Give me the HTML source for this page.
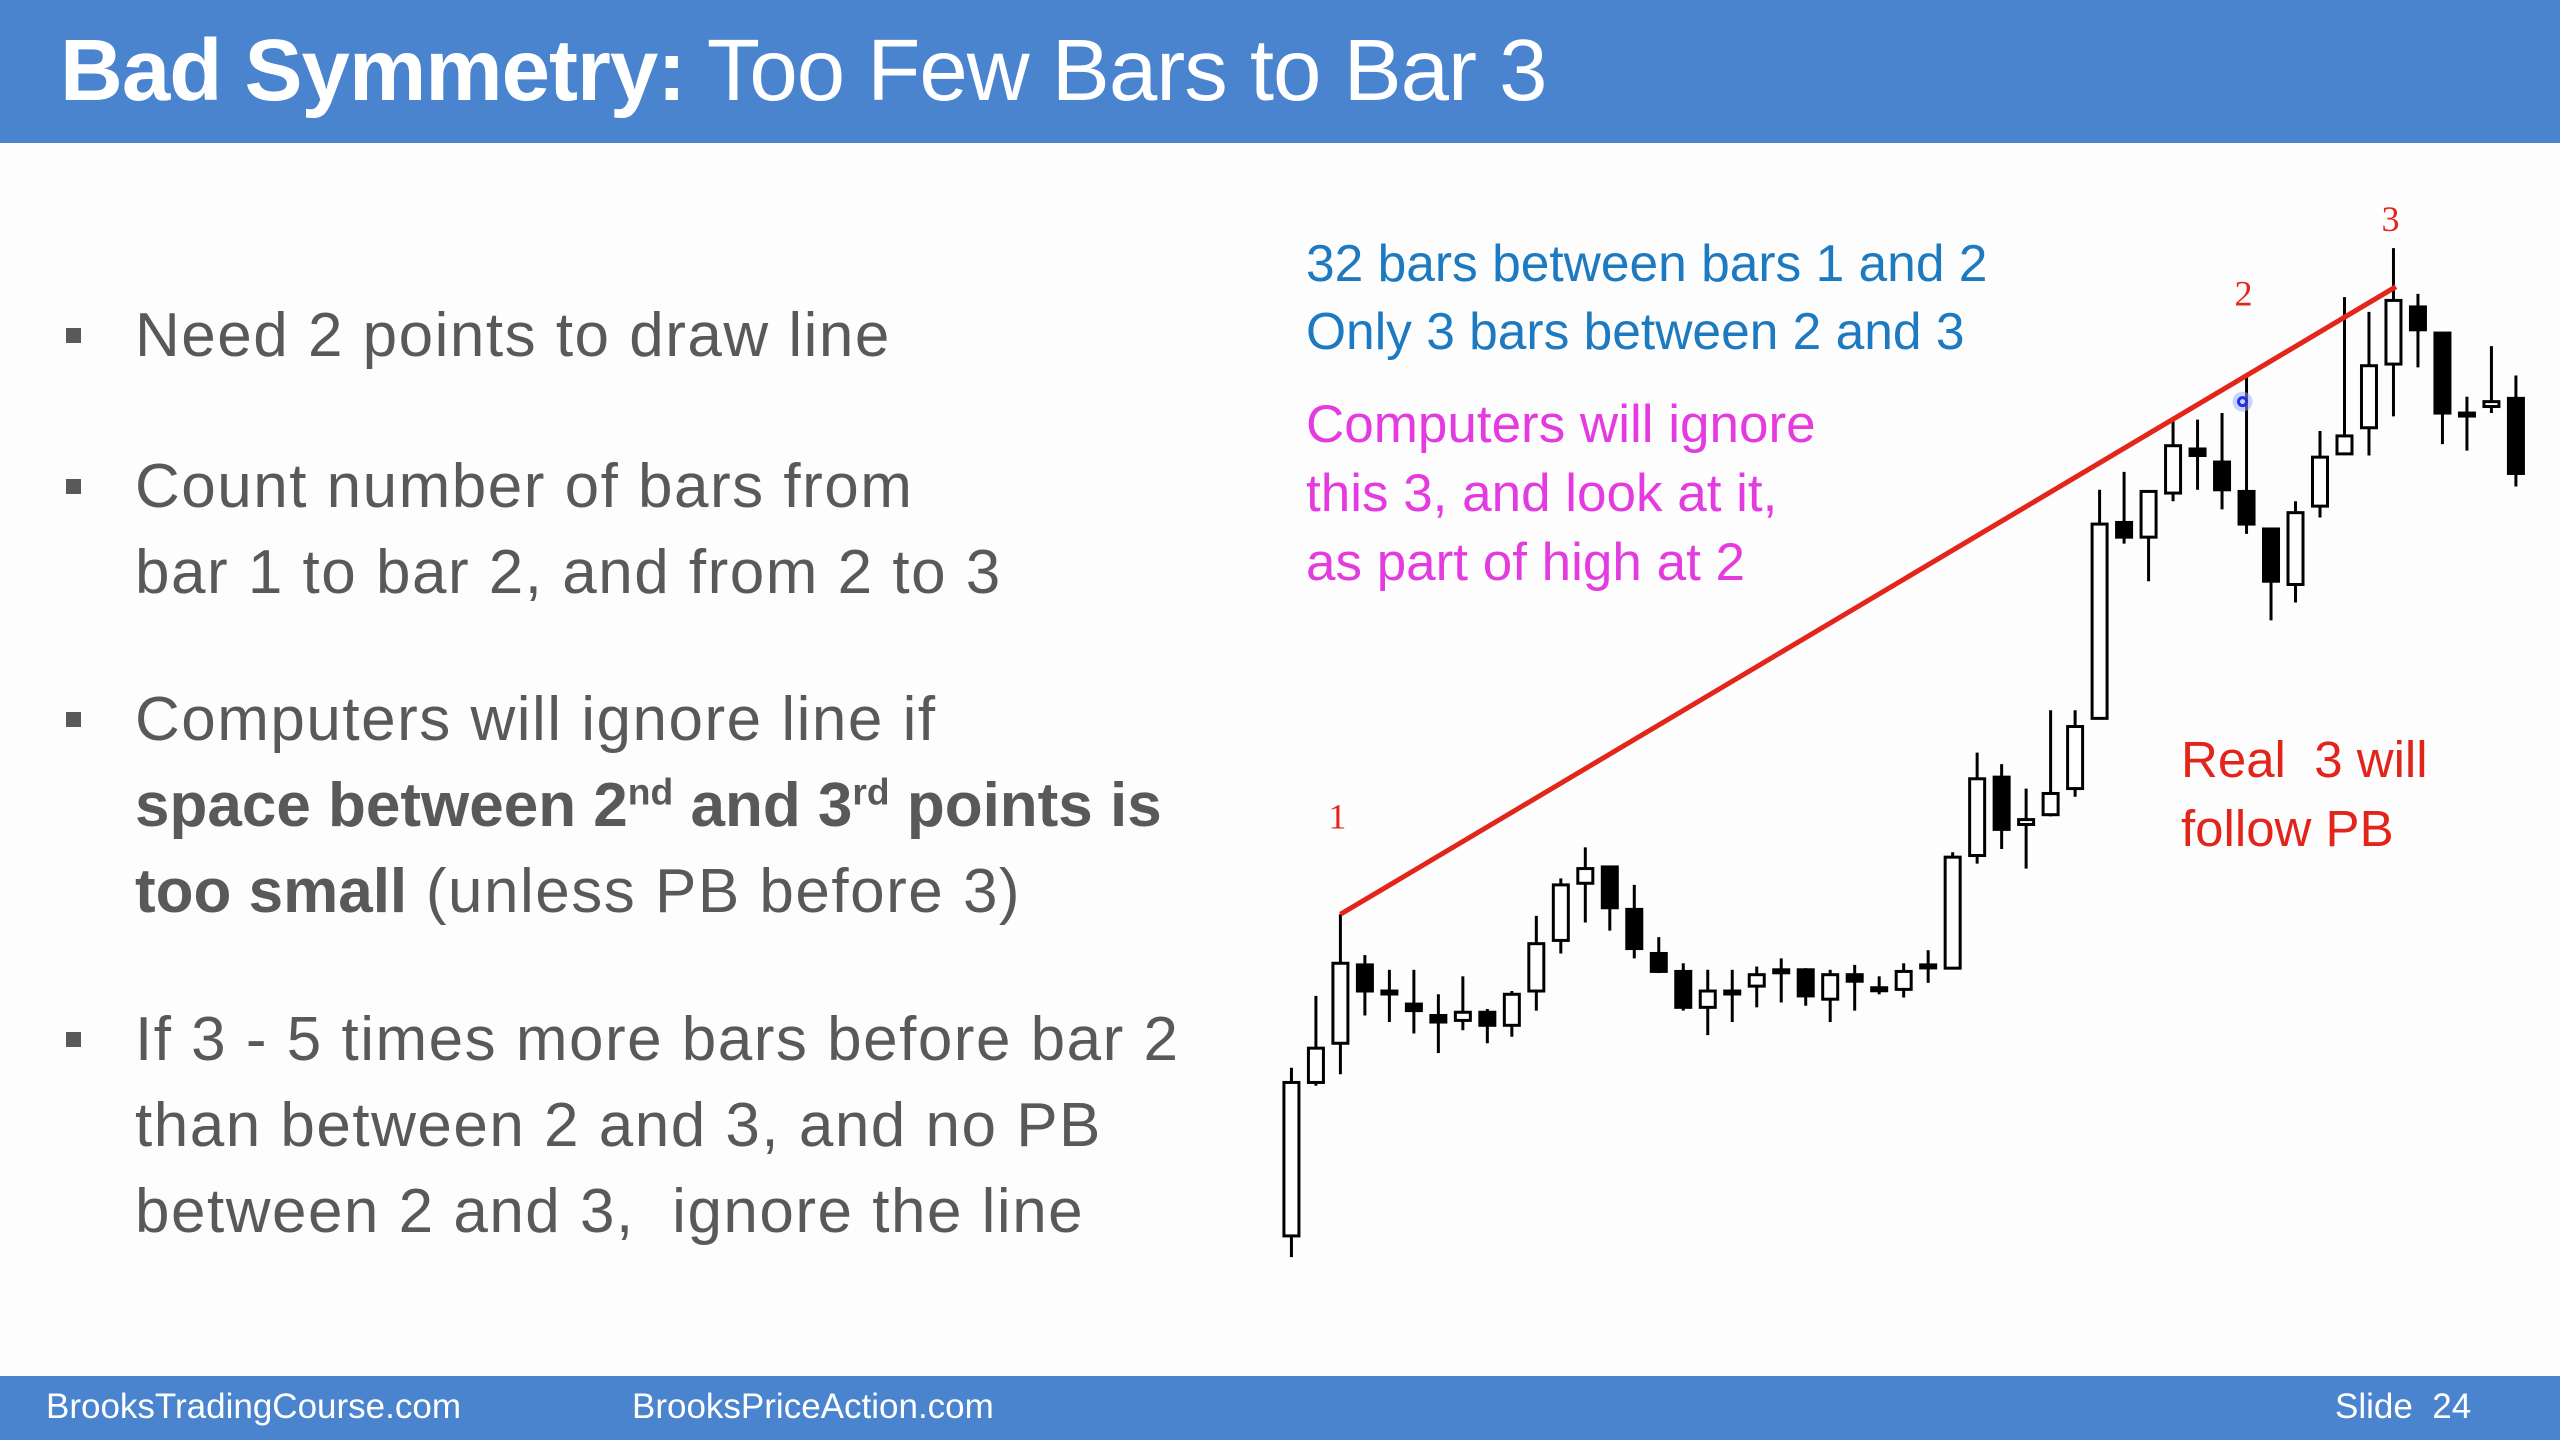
<!DOCTYPE html>
<html><head><meta charset="utf-8">
<style>
html,body{margin:0;padding:0}
body{width:2560px;height:1440px;position:relative;overflow:hidden;background:#fdfdfd;font-family:"Liberation Sans",sans-serif}
#hdr{position:absolute;left:0;top:0;width:2560px;height:143px;background:#4a84cf}
#title{position:absolute;left:60px;top:24px;font-size:87px;line-height:94px;color:#fff;white-space:nowrap;letter-spacing:-1px}
#ftr{position:absolute;left:0;top:1376px;width:2560px;height:64px;background:#4a84cf}
.ft{position:absolute;top:1387px;font-size:35px;line-height:40px;color:#fff;white-space:nowrap}
.bl{position:absolute;left:135px;font-size:62px;line-height:86px;color:#595959;white-space:nowrap;letter-spacing:1.5px}
.bl b{letter-spacing:0px}
.sq{position:absolute;left:66px;width:15px;height:15px;background:#595959}
.rt{position:absolute;font-size:51px;line-height:60px;white-space:nowrap}
sup{font-size:60%;line-height:0}
svg{position:absolute;left:0;top:0}
</style></head><body>
<div id="hdr"></div>
<div id="title"><b>Bad Symmetry:</b> Too Few Bars to Bar 3</div>

<div class="sq" style="top:328px"></div>
<div class="bl" style="top:293px">Need 2 points to draw line</div>
<div class="sq" style="top:479px"></div>
<div class="bl" style="top:444px">Count number of bars from<br>bar 1 to bar 2, and from 2 to 3</div>
<div class="sq" style="top:712px"></div>
<div class="bl" style="top:677px">Computers will ignore line if<br><b>space between 2<sup>nd</sup> and 3<sup>rd</sup> points is</b><br><b>too small</b> (unless PB before 3)</div>
<div class="sq" style="top:1032px"></div>
<div class="bl" style="top:997px">If 3 - 5 times more bars before bar 2<br>than between 2 and 3, and no PB<br>between 2 and 3,&nbsp; ignore the line</div>

<div class="rt" style="left:1306px;top:229px;color:#1d7ac0;line-height:68px;font-size:51.5px">32 bars between bars 1 and 2<br>Only 3 bars between 2 and 3</div>
<div class="rt" style="left:1306px;top:390px;color:#e43be0;line-height:69px;font-size:53px">Computers will ignore<br>this 3, and look at it,<br>as part of high at 2</div>
<div class="rt" style="left:2181px;top:725px;color:#e2251b;font-size:51px;line-height:69px">Real&nbsp; 3 will<br>follow PB</div>

<div id="ftr"></div>
<div class="ft" style="left:46px">BrooksTradingCourse.com</div>
<div class="ft" style="left:632px">BrooksPriceAction.com</div>
<div class="ft" style="left:2335px">Slide&nbsp; 24</div>

<svg id="chart" width="2560" height="1440"></svg>
<script>
const opens =[143,237,261,309,293,285,278,275,280,272,293,324,359,369,343,316,305,283,293,296,306,306,288,303,295,294,309,307,376,424,395,401,417,460,580,571,598,625,617,599,576,542,590,622,638,677,712,696,647,651,656];
const highs =[246,290,340,315,306,306,291,302,282,293,339,362,381,369,358,326,310,306,306,308,313,307,306,309,302,310,318,378,439,432,417,465,465,600,611,599,643,643,647,670,576,593,636,718,709,748,720,696,657,688,670];
const lows  =[130,235,242,278,274,267,255,269,261,265,281,316,335,330,313,304,281,266,274,283,286,284,274,281,291,289,298,307,371,380,368,400,412,460,567,544,593,600,588,573,520,531,583,622,621,645,675,628,624,647,602];
const closes=[237,258,310,293,293,281,274,280,272,291,322,358,368,344,319,305,283,293,293,303,306,290,303,299,295,305,309,375,423,392,398,414,455,579,571,599,627,621,600,579,544,586,620,633,676,716,698,647,647,654,610];
const pointLabels=["1","2","3"];
const pointIdx=[2,39,45];
const K=2560/1568;
function xs(i){return (791+15*i)*K;}
function ys(p){return (900-p)*K;}
const svg=document.getElementById('chart');
const NS='http://www.w3.org/2000/svg';
function mk(t,a){const e=document.createElementNS(NS,t);for(const k in a)e.setAttribute(k,a[k]);svg.appendChild(e);return e;}
const bw=15;
for(let i=0;i<opens.length;i++){
  const x=xs(i);
  const w=mk('line',{x1:x,x2:x,y1:ys(highs[i]),y2:ys(lows[i]),stroke:'#000','stroke-width':3});
  
  
  const top=ys(Math.max(opens[i],closes[i])),bot=ys(Math.min(opens[i],closes[i]));
  const bull=closes[i]>=opens[i];
  const h=Math.max(bot-top,3);
  const r=mk('rect',{x:x-bw/2,y:top,width:bw,height:h,fill:bull?'#fff':'#000',stroke:'#000','stroke-width':3});
  
  
}
const a=pointIdx[0],b=pointIdx[1],c=pointIdx[2];
const slope=(highs[b]-highs[a])/(b-a);
const ln=mk('line',{x1:xs(a),y1:ys(highs[a]),x2:xs(c+0.1),y2:ys(highs[a]+slope*(c+0.1-a)),stroke:'#e3261b','stroke-width':5});


const labelOff=[86,70,17];
for(let j=0;j<pointLabels.length;j++){
  const i=pointIdx[j];
  const t=mk('text',{x:xs(i)-3,y:ys(highs[i])-labelOff[j],fill:'#e3261b','font-size':36,'font-family':'Liberation Serif, serif','text-anchor':'middle'});
  t.textContent=pointLabels[j];
  
  
}
const d1=mk('circle',{cx:xs(39)-4,cy:ys(654),r:10,fill:'#9aa6ff',opacity:0.5});


const d2=mk('circle',{cx:xs(39)-4,cy:ys(654),r:4,fill:'none',stroke:'#2030e0','stroke-width':3});


</script>
</body></html>
